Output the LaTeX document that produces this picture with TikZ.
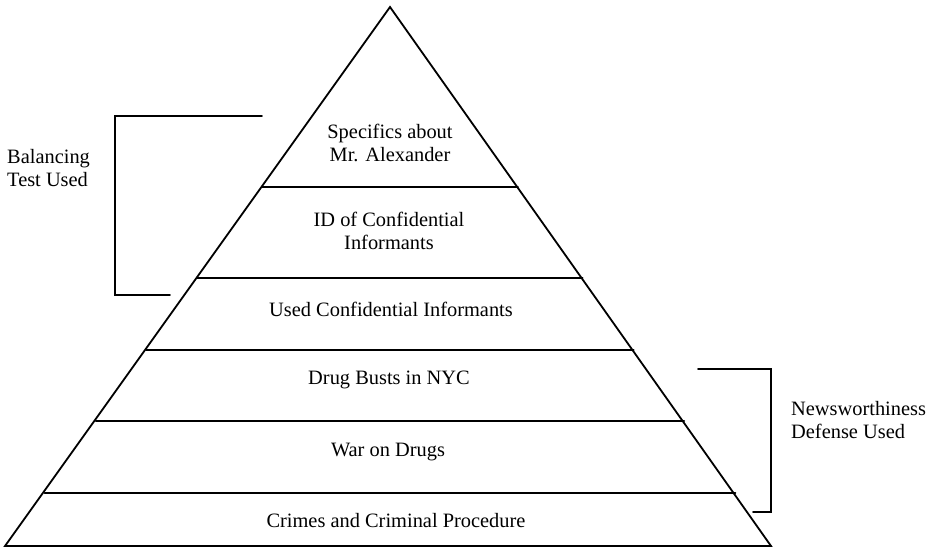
\documentclass[tikz,border=0pt]{standalone}
\usepackage{fontspec}
\setmainfont{Liberation Serif}
\begin{document}
\begin{tikzpicture}[x=1pt,y=-1pt,
  edge/.style={line width=1.8pt,line cap=round,line join=miter},
  lbl/.style={font=\fontsize{20.4}{23}\selectfont,align=center,inner sep=0pt},
  side/.style={font=\fontsize{20.4}{23}\selectfont,align=left,inner sep=0pt}]
\useasboundingbox (0,0) rectangle (930,549);
% triangle
\coordinate (apex) at (390,7);
\coordinate (bl) at (5,546);
\coordinate (br) at (771,546);
\draw[edge] (bl) -- (apex) -- (br) -- cycle;
% band lines
\foreach \yy/\nm in {187/a,278/b,350/c,421/d,493/e}{
  \pgfmathsetmacro{\dx}{0.71058*(\yy-7)}
  \coordinate (\nm L) at ({390-\dx},\yy);
  \coordinate (\nm R) at ({390+\dx},\yy);
  \draw[edge] (\nm L) -- (\nm R);
}
% labels
\node[lbl] (t1) at (390,143) {Specifics about\\Mr. Alexander};
\node[lbl] (t2) at (389,231) {ID of Confidential\\Informants};
\node[lbl] (t3) at (391,309) {Used Confidential Informants};
\node[lbl] (t4) at (389,380) {Drug Busts in NYC};
\node[lbl] (t5) at (388,452) {War on Drugs};
\node[lbl] (t6) at (396,521) {Crimes and Criminal Procedure};
% left bracket
\coordinate (lb1) at (262,116);
\coordinate (lb2) at (115,116);
\coordinate (lb3) at (115,295);
\coordinate (lb4) at (170,295);
\draw[edge] (lb1) -- (lb2) -- (lb3) -- (lb4);
\node[side,anchor=west] (bal) at (7,168) {Balancing\\Test Used};
% right bracket
\coordinate (rb1) at (698,369);
\coordinate (rb2) at (771,369);
\coordinate (rb3) at (771,512);
\coordinate (rb4) at (753,512);
\draw[edge] (rb1) -- (rb2) -- (rb3) -- (rb4);
\node[side,anchor=west] (news) at (791,420) {Newsworthiness\\Defense Used};
\end{tikzpicture}
\end{document}
